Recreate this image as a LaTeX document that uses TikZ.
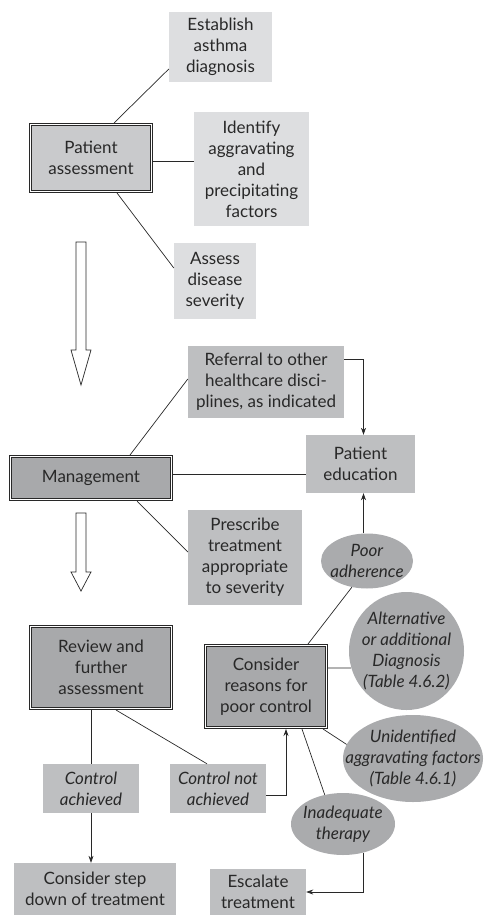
\documentclass[tikz,border=0pt]{standalone}
\usepackage{fontspec}
\setmainfont{Lato}
\usetikzlibrary{arrows.meta,shapes.geometric}
\definecolor{boxlight}{RGB}{221,222,224}
\definecolor{boxmid}{RGB}{190,191,193}
\definecolor{boxdark}{RGB}{168,169,171}
\definecolor{boxpale}{RGB}{201,202,204}
\definecolor{ovalgray}{RGB}{170,171,173}
\definecolor{inkgray}{RGB}{40,40,40}
\newcommand{\chartfont}{\fontsize{17}{21}\selectfont}
\tikzset{
  lightbox/.style={fill=boxlight, inner sep=0pt, align=center, text=inkgray, font=\chartfont},
  midbox/.style={fill=boxmid, inner sep=0pt, align=center, text=inkgray, font=\chartfont},
  dblbox/.style={draw=inkgray, fill=boxdark, line width=0.8pt, double=white, double distance=1.6pt, outer sep=1.6pt, inner sep=0pt, align=center, text=inkgray, font=\chartfont},
  reason/.style={ellipse, fill=ovalgray, inner sep=-20pt, align=center, text=inkgray, font=\chartfont\itshape},
  link/.style={draw=inkgray, line width=0.7pt},
  linkarrow/.style={link, -{Stealth[length=7pt,width=5pt]}},
}

\begin{document}
\begin{tikzpicture}[x=1pt,y=-1pt]
  \useasboundingbox (0,0) rectangle (483,915);

  %% Patient assessment
  \node[dblbox, fill=boxpale, minimum width=120.8pt, minimum height=66.8pt] (assessment) at (91,158) {Patient\\assessment};
  \node[lightbox, minimum width=103pt, minimum height=70pt] (establish) at (220.5,47) {Establish\\asthma\\diagnosis};
  \node[lightbox, minimum width=115pt, minimum height=114pt] (identify) at (251.5,169) {Identify\\aggravating\\and\\precipitating\\factors};
  \node[lightbox, minimum width=82pt, minimum height=76pt] (severity) at (215,281) {Assess\\disease\\severity};

  %% Management
  \node[dblbox, minimum width=160.8pt, minimum height=42.8pt] (management) at (91,478) {Management};
  \node[midbox, minimum width=156pt, minimum height=72pt] (referral) at (266,382) {Referral to other\\healthcare disci-\\plines, as indicated};
  \node[midbox, minimum width=109pt, minimum height=58pt] (education) at (360.5,464) {Patient\\education};
  \node[midbox, minimum width=114pt, minimum height=95pt] (prescribe) at (245,557.5) {Prescribe\\treatment\\appropriate\\to severity};

  %% Review and reasons for poor control
  \node[dblbox, minimum width=140.8pt, minimum height=81.8pt] (review) at (101,667.5) {Review and\\further\\assessment};
  \node[dblbox, minimum width=120.8pt, minimum height=81.8pt] (consider) at (266,686.5) {Consider\\reasons for\\poor control};
  \node[reason, minimum width=92pt, minimum height=55pt] (adherence) at (367,561) {Poor\\adherence};
  \node[reason, minimum width=115pt, minimum height=118pt] (alternative) at (406.5,651) {Alternative\\or additional\\Diagnosis\\(Table 4.6.2)};
  \node[reason, minimum width=140pt, minimum height=87pt] (unidentified) at (413,758.5) {Unidentified\\aggravating factors\\(Table 4.6.1)};
  \node[reason, minimum width=104pt, minimum height=62pt] (inadequate) at (343,824) {Inadequate\\therapy};
  \node[midbox, font=\chartfont\itshape, minimum width=96pt, minimum height=49pt] (achieved) at (91,788.5) {Control\\achieved};
  \node[midbox, font=\chartfont\itshape, minimum width=96pt, minimum height=49pt] (notachieved) at (218,788.5) {Control not\\achieved};
  \node[midbox, minimum width=162pt, minimum height=52pt] (stepdown) at (95,889) {Consider step\\down of treatment};
  \node[midbox, minimum width=96pt, minimum height=46pt] (escalate) at (258,892) {Escalate\\treatment};

  %% Hollow arrows between stages
  \foreach \ytop/\yneck/\ytip in {242/350/385, 513/572/591}
    \draw[draw=inkgray, line width=0.7pt, fill=white] (76,\ytop) -- (86,\ytop) -- (86,\yneck) -- (91,\yneck) -- (81,\ytip) -- (71,\yneck) -- (76,\yneck) -- cycle;

  %% Connectors
  \draw[link] ([xshift=23pt]assessment.north) -- ([yshift=-22pt]establish.west);
  \draw[link] ([yshift=-3.5pt]assessment.east) -- ([yshift=-3.5pt]assessment.east -| identify.west);
  \draw[link] ([xshift=26pt]assessment.south) -- ([yshift=13pt]severity.west);

  \draw[link] ([xshift=39pt]management.north) -- ([yshift=3pt]referral.west);
  \draw[link] ([yshift=4pt]management.east) -- ([yshift=4pt]management.east -| education.west);
  \draw[link] ([xshift=46pt]management.south) -- ([yshift=5.5pt]prescribe.west);
  \draw[linkarrow] ([yshift=23pt]referral.east) -| ([xshift=3pt]education.north);
  \draw[linkarrow] ([xshift=3pt]education.south |- adherence.north) -- ([xshift=3pt]education.south);

  \draw[link] (adherence.240) -- ([xshift=42pt]consider.north);
  \draw[link] ([yshift=18.5pt]consider.east) -- (alternative.197);
  \draw[link] ([xshift=-5pt]consider.south east) -- (unidentified.168);
  \draw[link] ([xshift=36pt]consider.south) -- (inadequate.122);
  \draw[linkarrow] (inadequate.-55) |- (escalate.east);

  \draw[link] (achieved.north |- review.south) -- (achieved.north);
  \draw[linkarrow] (achieved.south) -- (achieved.south |- stepdown.north);
  \draw[link] ([xshift=15pt]review.south) -- ([xshift=-11pt]notachieved.north);
  \draw[linkarrow] ([yshift=-6.5pt]notachieved.east) -| ([xshift=20pt]consider.south);
\end{tikzpicture}
\end{document}
